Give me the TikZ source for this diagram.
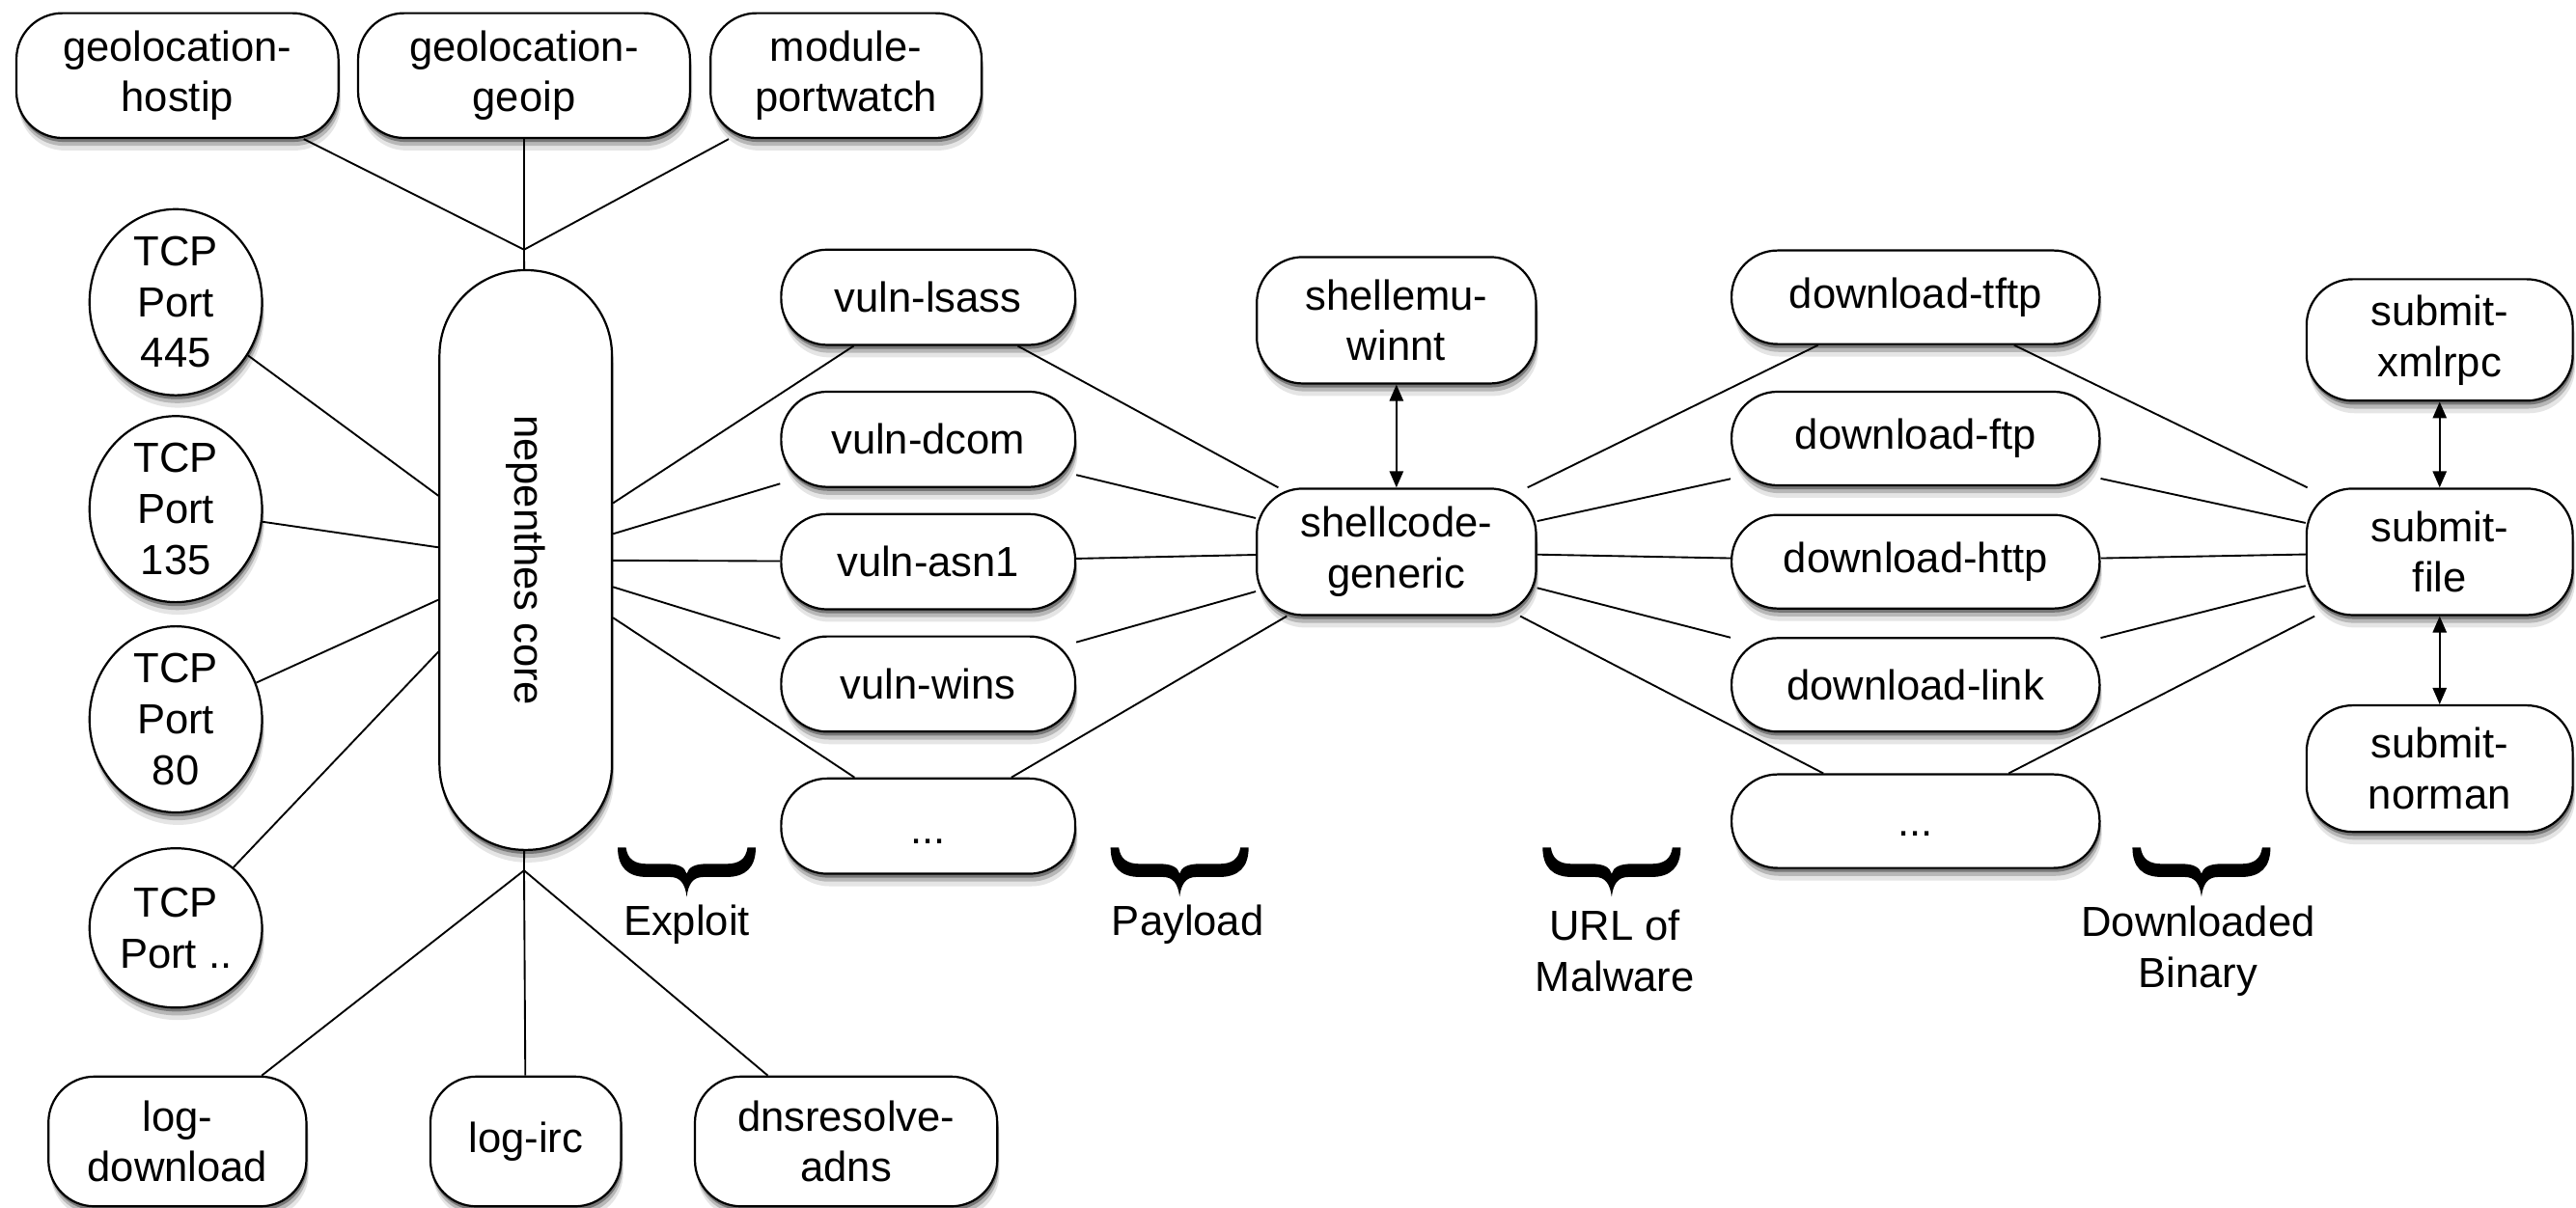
\documentclass[tikz,border=0pt]{standalone}
\usepackage{fontspec}
\setmainfont{Liberation Sans}
\usetikzlibrary{shadows,arrows.meta,shapes.geometric}
\begin{document}
\begin{tikzpicture}[x=0.5pt,y=-0.5pt,
  every node/.style={font=\fontsize{12.8pt}{15.5pt}\selectfont, align=center, inner sep=0pt},
  softshadow/.style={drop shadow={shadow xshift=0.3pt,shadow yshift=-1.2pt,opacity=0.35,fill=black},
                     drop shadow={shadow xshift=0.5pt,shadow yshift=-2.4pt,opacity=0.2,fill=black},
                     drop shadow={shadow xshift=0.7pt,shadow yshift=-3.8pt,opacity=0.1,fill=black}},
  box/.style={draw=black, line width=0.65pt, fill=white, rounded corners=14pt, softshadow},
  port/.style={draw=black, line width=0.65pt, fill=white, ellipse, softshadow,
               minimum width=52.5pt, minimum height=48.5pt},
  vbox/.style={box, minimum width=89.5pt, minimum height=29pt},
  dbox/.style={box, minimum width=112pt, minimum height=28.5pt},
  sbox/.style={box, minimum width=81pt, minimum height=38.5pt},
  link/.style={draw=black, line width=0.55pt},
  biarrow/.style={link, {Triangle[length=5pt,width=4.2pt]}-{Triangle[length=5pt,width=4.2pt]}},
  bracemark/.pic={
    \fill[black] (-42,-14) .. controls (-42,-2) and (-36,4) .. (-24,4) -- (-10,4)
      .. controls (-4,4) and (-1,8) .. (0,16)
      .. controls (1,8) and (4,4) .. (10,4) -- (24,4)
      .. controls (36,4) and (42,-2) .. (42,-14) -- (37,-14)
      .. controls (36,-7) and (32,-4) .. (24,-4) -- (12,-4)
      .. controls (5,-4) and (1,-2) .. (0,2)
      .. controls (-1,-2) and (-5,-4) .. (-12,-4) -- (-24,-4)
      .. controls (-32,-4) and (-36,-7) .. (-37,-14) -- cycle;
  }
]
\useasboundingbox (0,0) rectangle (1568,735);

% top row
\node[box, minimum width=98pt, minimum height=38pt] (hostip) at (108,46) {geolocation-\\hostip};
\node[box, minimum width=101pt, minimum height=38pt] (geoip) at (319,46) {geolocation-\\geoip};
\node[box, minimum width=82.5pt, minimum height=38pt] (portwatch) at (515,46) {module-\\portwatch};
\coordinate (topj) at (319,152);

% ports
\node[port] (tcp445) at (107,184) {TCP\\Port\\445};
\node[port] (tcp135) at (107,310) {TCP\\Port\\135};
\node[port] (tcp80) at (107,438) {TCP\\Port\\80};
\node[port] (tcpdd) at (107,565) {TCP\\Port ..};

% core
\node[box, rounded corners=26pt, minimum width=52.5pt, minimum height=176.5pt] (core) at (320,341)
  {\rotatebox{-90}{nepenthes core}};
\coordinate (botj) at (319,530);

% bottom row
\node[box, minimum width=78.5pt, minimum height=39.5pt] (logdl) at (108,695) {log-\\download};
\node[box, minimum width=58pt, minimum height=39.5pt] (logirc) at (320,695) {log-irc};
\node[box, minimum width=92pt, minimum height=39.5pt] (dns) at (515,695) {dnsresolve-\\adns};

% vulns
\node[vbox] (vlsass) at (565,181) {vuln-lsass};
\node[vbox] (vdcom) at (565,267.5) {vuln-dcom};
\node[vbox] (vasn) at (565,342) {vuln-asn1};
\node[vbox] (vwins) at (565,416.5) {vuln-wins};
\node[vbox] (vdots) at (565,503) {\raisebox{-5.5pt}[0pt][0pt]{...}};

% shellcode
\node[box, minimum width=85pt, minimum height=38.5pt] (shellemu) at (850,195) {shellemu-\\winnt};
\node[box, minimum width=85pt, minimum height=38.5pt] (shellcode) at (850,336) {shellcode-\\generic};

% downloads
\node[dbox] (dtftp) at (1166,181) {download-tftp};
\node[dbox] (dftp) at (1166,267) {download-ftp};
\node[dbox] (dhttp) at (1166,342) {download-http};
\node[dbox] (dlink) at (1166,417) {download-link};
\node[dbox] (ddots) at (1166,500) {\raisebox{-4.5pt}[0pt][0pt]{...}};

% submit
\node[sbox, minimum height=37pt] (sxml) at (1485,207) {submit-\\xmlrpc};
\node[sbox] (sfile) at (1485,336) {submit-\\file};
\node[sbox] (snorman) at (1485,468) {submit-\\norman};

% connectors
\draw[link] (hostip) -- (topj);
\draw[link] (geoip) -- (topj);
\draw[link] (portwatch) -- (topj);
\draw[link] (topj) -- (core);
\draw[link] (core) -- (botj);
\draw[link] (botj) -- (logdl);
\draw[link] (botj) -- (logirc);
\draw[link] (botj) -- (dns);

\foreach \p in {tcp445,tcp135,tcp80,tcpdd} \draw[link] (\p) -- (core);
\foreach \v in {vlsass,vdcom,vasn,vwins,vdots} {
  \draw[link] (core) -- (\v);
  \draw[link] (\v) -- (shellcode);
}
\foreach \d in {dtftp,dftp,dhttp,dlink,ddots} {
  \draw[link] (shellcode) -- (\d);
  \draw[link] (\d) -- (sfile);
}
\draw[biarrow] (shellemu) -- (shellcode);
\draw[biarrow] (sxml) -- (sfile);
\draw[biarrow] (sfile) -- (snorman);

% braces and labels
\pic (bexploit) at (418,530) {bracemark};
\pic (bpayload) at (718,530) {bracemark};
\pic (burl) at (981,530) {bracemark};
\pic (bbinary) at (1340,530) {bracemark};
\node (lexploit) at (418,563) {Exploit};
\node (lpayload) at (723,563) {Payload};
\node (lurl) at (983,579) {URL of\\Malware};
\node (lbinary) at (1338,579) {Downloaded\\Binary};
\end{tikzpicture}
\end{document}
